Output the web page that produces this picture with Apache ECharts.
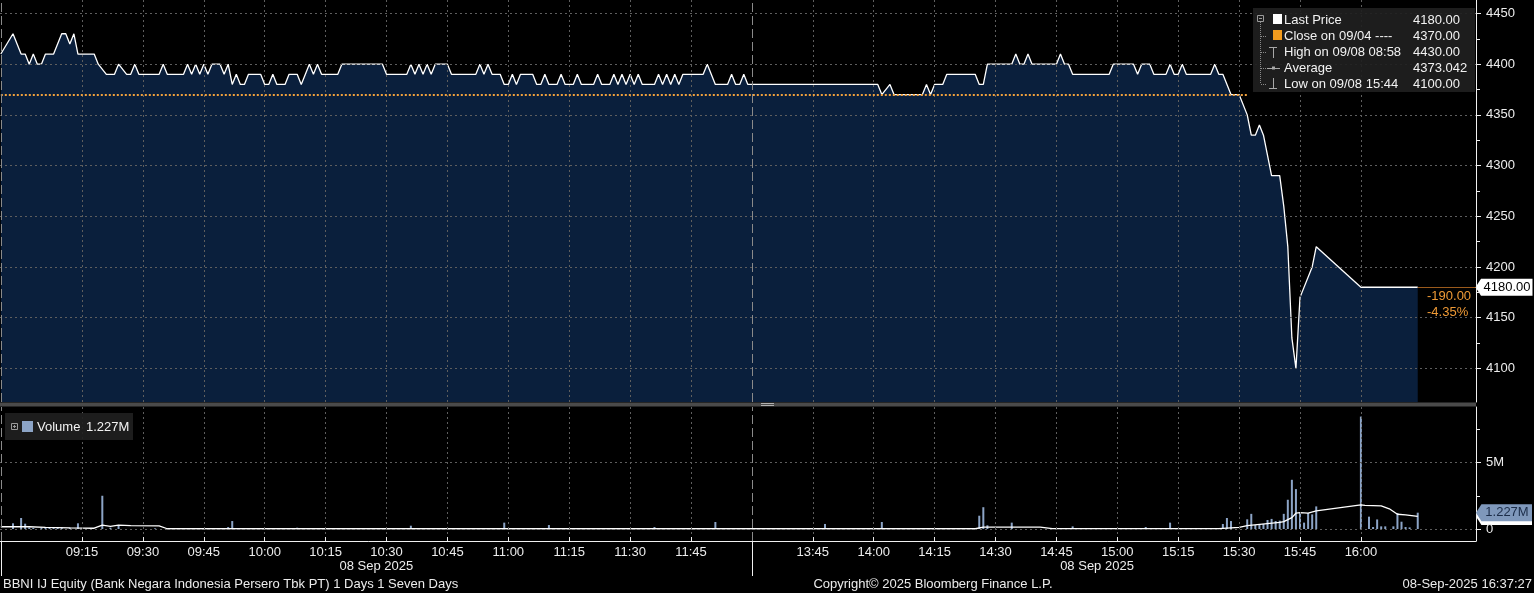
<!DOCTYPE html>
<html>
<head>
<meta charset="utf-8">
<title>BBNI IJ Equity</title>
<script src="https://cdn.jsdelivr.net/npm/echarts@6/dist/echarts.min.js"></script>
<style>
  html, body { margin: 0; padding: 0; background: #000; }
  #chart { width: 1534px; height: 593px; }
</style>
</head>
<body>
<div id="chart"></div>
<script>
// ---- data ----
// price line vertices (local time, IDR)
const priceTimes = ['08:55','08:58','09:00','09:01','09:02','09:03','09:04','09:05','09:06','09:08','09:10','09:11','09:12','09:13','09:14','09:18','09:19','09:21','09:23','09:24','09:26','09:27','09:28','09:29','09:34','09:35','09:36','09:40','09:41','09:42','09:43','09:44','09:45','09:46','09:47','09:49','09:50','09:51','09:52','09:53','09:54','09:55','09:56','09:59','10:00','10:01','10:02','10:03','10:05','10:06','10:08','10:09','10:11','10:12','10:13','10:14','10:18','10:19','10:29','10:30','10:35','10:36','10:37','10:38','10:39','10:40','10:41','10:42','10:45','10:46','10:52','10:53','10:54','10:55','10:56','10:58','10:59','11:00','11:01','11:02','11:03','11:06','11:07','11:08','11:09','11:10','11:12','11:13','11:14','11:16','11:17','11:18','11:21','11:22','11:23','11:25','11:26','11:27','11:28','11:29','11:30','11:31','11:32','11:33','11:36','11:37','11:38','11:39','11:40','11:41','11:42','11:43','11:48','11:49','11:51','11:54','11:55','11:56','11:57','11:58','11:59','14:01','14:02','14:04','14:05','14:12','14:13','14:14','14:15','14:17','14:18','14:25','14:26','14:27','14:28','14:34','14:35','14:36','14:37','14:38','14:39','14:45','14:46','14:47','14:48','14:49','14:58','14:59','15:04','15:05','15:06','15:08','15:09','15:12','15:13','15:14','15:15','15:16','15:17','15:23','15:24','15:25','15:26','15:28','15:30','15:32','15:33','15:34','15:35','15:36','15:38','15:40','15:41','15:42','15:43','15:44','15:45','15:48','15:49','16:00','16:14'];
const priceValues = [4410,4430,4410,4410,4400,4410,4400,4400,4410,4410,4430,4430,4420,4430,4410,4410,4400,4390,4390,4400,4390,4390,4400,4390,4390,4400,4390,4390,4400,4390,4400,4390,4400,4390,4400,4400,4390,4400,4380,4390,4380,4380,4390,4390,4380,4380,4390,4380,4380,4390,4390,4380,4400,4390,4400,4390,4390,4400,4400,4390,4390,4400,4390,4400,4390,4400,4390,4400,4400,4390,4390,4400,4390,4400,4390,4390,4380,4380,4390,4380,4390,4390,4380,4380,4390,4380,4380,4390,4380,4380,4390,4380,4380,4390,4380,4380,4390,4380,4390,4380,4390,4380,4390,4380,4380,4390,4380,4390,4380,4390,4380,4390,4390,4400,4380,4380,4390,4380,4380,4390,4380,4380,4370,4380,4370,4370,4380,4370,4380,4380,4390,4390,4380,4380,4400,4400,4410,4400,4400,4410,4400,4400,4410,4400,4400,4390,4390,4400,4400,4390,4400,4400,4390,4390,4400,4390,4390,4400,4390,4390,4400,4390,4390,4370,4370,4350,4330,4330,4340,4330,4290,4290,4260,4220,4130,4100,4170,4200,4220,4180,4180];

// volume bars (millions of shares)
const volumeTimes = ['08:58','09:00','09:01','09:02','09:03','09:05','09:06','09:07','09:08','09:09','09:10','09:12','09:14','09:17','09:20','09:22','09:24','09:33','09:51','09:52','10:08','10:36','10:59','11:10','11:36','11:42','11:51','11:52','13:48','14:02','14:26','14:27','14:28','14:34','14:49','15:07','15:13','15:26','15:27','15:28','15:32','15:33','15:34','15:35','15:36','15:37','15:38','15:39','15:40','15:41','15:42','15:43','15:44','15:45','15:46','15:47','15:48','15:49','16:00','16:02','16:03','16:04','16:05','16:06','16:08','16:09','16:10','16:11','16:12','16:14'];
const volumeValues = [0.43,0.83,0.40,0.12,0.08,0.10,0.08,0.10,0.08,0.10,0.12,0.10,0.43,0.05,2.50,0.10,0.30,0.05,0.15,0.60,0.10,0.25,0.48,0.30,0.15,0.06,0.53,0.06,0.38,0.53,1.00,1.64,0.28,0.48,0.20,0.15,0.48,0.38,0.83,0.60,0.73,1.14,0.30,0.38,0.38,0.68,0.76,0.60,0.63,1.14,2.20,3.70,3.00,1.20,0.48,1.20,1.10,1.70,8.45,0.93,0.15,0.72,0.20,0.20,0.20,1.20,0.55,0.15,0.12,1.227];

// white average line in the volume panel (millions)
const volAvgTimes = ['08:55','09:02','09:06','09:12','09:18','09:20','09:22','09:24','09:27','09:34','09:36','14:25','14:27','14:41','14:44','15:25','15:30','15:32','15:40','15:41','15:43','15:44','15:45','15:47','15:49','16:00','16:01','16:05','16:07','16:09','16:11','16:14'];
const volAvgValues = [0.17,0.17,0.12,0.08,0.06,0.30,0.20,0.30,0.25,0.23,0.02,0.02,0.15,0.15,0.03,0.03,0.13,0.25,0.50,0.56,0.86,1.19,1.24,1.19,1.36,1.82,1.77,1.74,1.52,1.11,1.06,0.95];

const timeTicks = ['09:15','09:30','09:45','10:00','10:15','10:30','10:45','11:00','11:15','11:30','11:45','13:45','14:00','14:15','14:30','14:45','15:00','15:15','15:30','15:45','16:00'];
const priceTicks = [4100,4150,4200,4250,4300,4350,4400,4450];
const priceMinorTicks = [4125,4175,4225,4275,4325,4375,4425];
const volumeTicks = [0, 5];
const volumeMinorTicks = [2.5, 7.5];
const sessionStarts = ['08:55', '13:30'];
const sessionEnds = ['12:00', '16:20'];
const sessionDate = '08 Sep 2025';

const prevClose = 4370;
const prevCloseUntil = '15:32';
const lastPrice = 4180;
const lastTime = '16:14';
const lastVolume = 1.227;

const legendNames = ['Last Price', 'Close on 09/04 ----', 'High on 09/08 08:58', 'Average', 'Low on 09/08 15:44'];
const legendValues = ['4180.00', '4370.00', '4430.00', '4373.042', '4100.00'];

// ---- helpers ----
const FONT = '"Liberation Sans", Arial, sans-serif';
const TXT = '#ececec';

// minutes of trading: morning counted from 09:00, afternoon glued on at 12:00 = 13:30
function toMin(t) {
  const p = t.split(':');
  const m = (+p[0]) * 60 + (+p[1]);
  return m >= 13 * 60 ? m - (13 * 60 + 30) + 180 : m - 9 * 60;
}
function pairs(times, vals) {
  return times.map((t, i) => [toMin(t), vals[i]]);
}

const X_MIN = -5.2, X_MAX = 358.35;
const xTickMins = timeTicks.map(toMin);

const gridLine = { show: true, lineStyle: { color: '#5e5e5e', width: 1, type: [2, 3] } };

function xAxis(gridIndex, labels) {
  return {
    type: 'value', gridIndex: gridIndex, min: X_MIN, max: X_MAX, z: 5,
    axisLine: { show: labels, onZero: false, lineStyle: { color: '#f0f0f0', width: 1 } },
    axisTick: { show: labels, inside: true, length: 4, customValues: xTickMins, lineStyle: { color: '#f0f0f0' } },
    axisLabel: {
      show: labels, customValues: xTickMins, margin: 5,
      color: TXT, fontSize: 13, fontFamily: FONT,
      formatter: v => timeTicks[xTickMins.indexOf(v)]
    },
    splitLine: gridLine
  };
}

function yAxis(gridIndex, min, max, ticks, labels, fmt) {
  return {
    type: 'value', gridIndex: gridIndex, position: 'right', min: min, max: max, z: 5,
    axisLine: { show: labels, onZero: false, lineStyle: { color: '#f0f0f0', width: 1 } },
    axisTick: { show: true, length: labels ? 5 : 4, customValues: ticks, lineStyle: { color: '#f0f0f0' } },
    axisLabel: {
      show: labels, customValues: ticks, margin: 10,
      color: TXT, fontSize: 13, fontFamily: FONT, formatter: fmt
    },
    splitLine: labels ? gridLine : { show: false }
  };
}

const sessionLine = { color: '#8a8a8a', width: 1, type: [9, 4] };

const tagPath = 'path://M0,8 L6,0 L62,0 L62,16 L6,16 Z';

const chart = echarts.init(document.getElementById('chart'));

const option = {
  backgroundColor: '#000',
  animation: false,
  grid: [
    { left: 0, right: 58, top: 0, height: 402, containLabel: false, outerBoundsMode: 'none' },
    { left: 0, right: 58, top: 407, height: 134, containLabel: false, outerBoundsMode: 'none' }
  ],
  xAxis: [xAxis(0, false), xAxis(1, true)],
  yAxis: [
    yAxis(0, 4066.8, 4463.3, priceTicks, true, v => String(v)),
    yAxis(0, 4066.8, 4463.3, priceMinorTicks, false),
    yAxis(1, -0.9, 9.17, volumeTicks, true, v => v === 0 ? '0' : v + 'M'),
    yAxis(1, -0.9, 9.17, volumeMinorTicks, false)
  ],
  series: [
    {
      name: 'Last Price', type: 'line', xAxisIndex: 0, yAxisIndex: 0,
      data: pairs(priceTimes, priceValues),
      showSymbol: false, symbol: 'none',
      lineStyle: { color: '#ffffff', width: 1.3 },
      areaStyle: { color: '#0a1f3c', opacity: 1, origin: 'start' },
      markLine: {
        silent: true, symbol: ['none', 'none'], label: { show: false },
        data: [
          [{ coord: [toMin(sessionStarts[0]), prevClose] }, { coord: [toMin(prevCloseUntil), prevClose] }],
          { xAxis: toMin(sessionStarts[0]), lineStyle: sessionLine },
          { xAxis: toMin(sessionStarts[1]), lineStyle: sessionLine },
          [{ coord: [toMin(lastTime), lastPrice], lineStyle: { color: '#9a5a1c', width: 1, type: 'solid' } },
           { coord: [X_MAX, lastPrice] }]
        ],
        lineStyle: { color: '#f0a03c', width: 2, type: [2, 2] }
      },
      markPoint: {
        silent: true,
        data: [{ coord: [X_MAX, lastPrice] }],
        symbol: tagPath, symbolSize: [57, 17], symbolOffset: [28, 0],
        itemStyle: { color: '#ffffff' },
        label: { show: true, position: 'inside', offset: [3, 0], color: '#000', fontSize: 13, fontFamily: FONT,
                 formatter: () => lastPrice.toFixed(2) }
      }
    },
    {
      name: 'Volume', type: 'bar', xAxisIndex: 1, yAxisIndex: 2,
      data: pairs(volumeTimes, volumeValues),
      barWidth: 2,
      itemStyle: { color: '#8ca4c6' },
      markLine: {
        silent: true, symbol: ['none', 'none'], label: { show: false },
        data: [{ xAxis: toMin(sessionStarts[0]) }, { xAxis: toMin(sessionStarts[1]) }],
        lineStyle: sessionLine
      },
      markPoint: {
        silent: true, z: 10,
        data: [{ coord: [X_MAX, lastVolume] }],
        symbol: tagPath, symbolSize: [56, 17], symbolOffset: [28, 0],
        itemStyle: { color: '#7f98bb' },
        label: { show: true, position: 'inside', offset: [3, 0], color: '#1b2c48', fontSize: 13, fontFamily: FONT,
                 formatter: () => lastVolume.toFixed(3) + 'M' }
      }
    },
    {
      name: 'Volume average', type: 'line', xAxisIndex: 1, yAxisIndex: 2,
      data: pairs(volAvgTimes, volAvgValues),
      showSymbol: false, symbol: 'none', z: 3,
      lineStyle: { color: '#ffffff', width: 1.3 },
      markPoint: {
        silent: true, z: 1,
        data: [{ coord: [X_MAX, volAvgValues[volAvgValues.length - 1]] }],
        symbol: tagPath, symbolSize: [56, 17], symbolOffset: [28, 0],
        itemStyle: { color: '#ffffff' },
        label: { show: false }
      }
    }
  ]
};
chart.setOption(option);

// ---- texts and boxes around the plot ----
function text(x, y, str, color, align, size) {
  const a = align || 'left';
  return {
    type: 'text', silent: true, z: 100, x: x, y: y,
    style: { text: str, fill: color || TXT, font: (size || 13) + 'px ' + FONT,
             align: a, verticalAlign: 'middle', textAlign: a, textVerticalAlign: 'middle' }
  };
}
function rect(x, y, w, h, fill, stroke) {
  return { type: 'rect', silent: true, z: 90, shape: { x: x, y: y, width: w, height: h },
           style: { fill: fill, stroke: stroke || null, lineWidth: 1 } };
}
function line(x1, y1, x2, y2, color, dash) {
  return { type: 'line', silent: true, z: 95, shape: { x1: x1, y1: y1, x2: x2, y2: y2 },
           style: { stroke: color, lineWidth: 1, lineDash: dash || null } };
}

const g = [];
const px = t => chart.convertToPixel({ seriesIndex: 1 }, [toMin(t), 0])[0];
const tagPt = chart.convertToPixel({ seriesIndex: 0 }, [X_MAX, lastPrice]);

// panel divider
g.push(rect(0, 402.5, 1476, 4, '#4a4a4a'));
g.push(line(761, 403.5, 774, 403.5, '#b0b0b0'));
g.push(line(761, 405.5, 774, 405.5, '#b0b0b0'));

// price legend
const rows = [20, 36, 52, 68, 84];
g.push(rect(1253, 8, 222, 84, 'rgba(32,32,32,0.92)'));
g.push(rect(1257.5, 15.5, 6, 6, null, '#9a9a9a'));
g.push(line(1259, 18.5, 1262, 18.5, '#9a9a9a'));
g.push(line(1260.5, 22, 1260.5, 84, '#8a8a8a', [1, 1]));
rows.slice(1).forEach(y => g.push(line(1261, y + 0.5, 1266, y + 0.5, '#8a8a8a', [1, 1])));
g.push(rect(1273, 14, 9, 10, '#ffffff'));
g.push(rect(1273, 30, 9, 10, '#f39c1e'));
g.push(line(1269, 47.5, 1277, 47.5, '#a8a8a8'));
g.push(line(1273.5, 47.5, 1273.5, 58, '#a8a8a8'));
g.push(line(1267, 68.5, 1280, 68.5, '#a8a8a8'));
g.push(rect(1272, 66.5, 3, 3, '#a8a8a8'));
g.push(line(1273.5, 78, 1273.5, 88.5, '#a8a8a8'));
g.push(line(1269, 88.5, 1277, 88.5, '#a8a8a8'));
legendNames.forEach((n, i) => {
  g.push(text(1284, rows[i], n, '#f2f2f2'));
  g.push(text(1413, rows[i], legendValues[i], '#f2f2f2'));
});

// change vs previous close
const chg = lastPrice - prevClose;
g.push(text(tagPt[0] - 49, tagPt[1] + 9, chg.toFixed(2), '#ef9a36'));
g.push(text(tagPt[0] - 49, tagPt[1] + 25, (chg / prevClose * 100).toFixed(2) + '%', '#ef9a36'));

// volume legend
g.push(rect(5, 413, 128, 27, 'rgba(32,32,32,0.92)'));
g.push(rect(11.5, 423.5, 6, 6, null, '#9a9a9a'));
g.push(line(13, 426.5, 16, 426.5, '#9a9a9a'));
g.push(line(14.5, 425, 14.5, 428, '#9a9a9a'));
g.push(rect(22, 421, 11, 11, '#8ca4c6'));
g.push(text(37, 427, 'Volume', '#f2f2f2'));
g.push(text(86, 427, lastVolume.toFixed(3) + 'M', '#f2f2f2'));

// session separators under the time axis and date labels
sessionStarts.forEach((t, i) => {
  const x = Math.round(px(t)) + 0.5;
  g.push(line(x, 541, x, 576, '#f0f0f0'));
  g.push(text((px(t) + px(sessionEnds[i])) / 2, 566, sessionDate, TXT, 'center'));
});

// footer
g.push(text(3, 584, 'BBNI IJ Equity (Bank Negara Indonesia Persero Tbk PT) 1 Days 1 Seven Days', TXT));
g.push(text(933, 584, 'Copyright\u00a9 2025 Bloomberg Finance L.P.', TXT, 'center'));
g.push(text(1532, 584, '08-Sep-2025 16:37:27', TXT, 'right'));

chart.setOption({ graphic: g });
</script>
</body>
</html>
